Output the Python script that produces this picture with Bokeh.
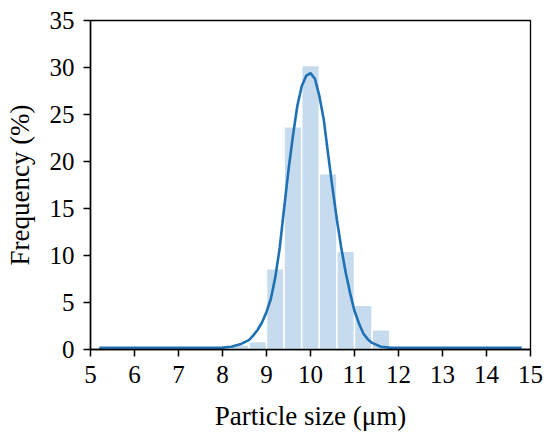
from bokeh.plotting import figure
from bokeh.models import FixedTicker, ColumnDataSource
from bokeh.embed import file_html
from bokeh.resources import INLINE

# Histogram bins (left/right edges, 0.4 um wide) and frequencies (%)
bin_left = [5.4, 5.8, 6.2, 6.6, 7.0, 7.4, 7.8, 8.2, 8.6, 9.0, 9.4, 9.8,
            10.2, 10.6, 11.0, 11.4, 11.8, 12.2, 12.6, 13.0, 13.4, 13.8, 14.2]
bin_right = [5.8, 6.2, 6.6, 7.0, 7.4, 7.8, 8.2, 8.6, 9.0, 9.4, 9.8, 10.2,
             10.6, 11.0, 11.4, 11.8, 12.2, 12.6, 13.0, 13.4, 13.8, 14.2, 14.6]
freq = [0.1, 0.1, 0.1, 0.1, 0.1, 0.1, 0.15, 0.5, 0.85, 8.6, 23.7, 30.2,
        18.7, 10.45, 4.7, 2.1, 0.35, 0.15, 0.15, 0.15, 0.15, 0.15, 0.15]

# Fitted curve
curve_x = [5.2, 7.5, 8.0, 8.2, 8.4, 8.6, 8.7, 8.8, 8.9, 9.0, 9.1, 9.2, 9.3, 9.4,
           9.5, 9.6, 9.7, 9.8, 9.9, 10.0, 10.1, 10.2, 10.3, 10.4, 10.5, 10.6,
           10.7, 10.8, 10.9, 11.0, 11.1, 11.2, 11.3, 11.4, 11.6, 11.8, 12.0, 12.5, 14.8]
curve_y = [0.18, 0.18, 0.2, 0.3, 0.55, 1.0, 1.5, 2.1, 2.9, 4.0, 5.4, 7.7, 10.8, 15.0,
           19.1, 22.7, 25.9, 28.0, 29.1, 29.4, 28.8, 27.0, 24.5, 20.8, 17.2, 13.8,
           10.8, 8.2, 6.0, 4.1, 2.8, 1.7, 1.1, 0.7, 0.3, 0.2, 0.18, 0.18, 0.18]

x_ticks = [5, 6, 7, 8, 9, 10, 11, 12, 13, 14, 15]
y_ticks = [0, 5, 10, 15, 20, 25, 30, 35]

FONT = "Liberation Serif"

p = figure(frame_width=440, frame_height=329, x_range=(5, 15), y_range=(0, 35),
           output_backend="svg", toolbar_location=None,
           min_border_left=90, min_border_top=20, min_border_right=20, min_border_bottom=97)
p.background_fill_color = "white"
p.border_fill_color = "white"
p.grid.visible = False
p.outline_line_color = "black"
p.outline_line_width = 1.3

src = ColumnDataSource(dict(left=bin_left, right=bin_right, top=freq))
p.quad(left="left", right="right", bottom=0, top="top", source=src,
       fill_color="#c6dcee", line_color="white", line_width=1.5)
p.line(curve_x, curve_y, line_color="#1f71b3", line_width=2.6)

for ax, ticks, label in ((p.xaxis[0], x_ticks, "Particle size (μm)"),
                         (p.yaxis[0], y_ticks, "Frequency (%)")):
    ax.ticker = FixedTicker(ticks=ticks)
    ax.axis_label = label
    ax.axis_label_text_font = FONT
    ax.axis_label_text_font_size = "27px"
    ax.axis_label_text_font_style = "normal"
    ax.axis_label_text_color = "black"
    ax.major_label_text_font = FONT
    ax.major_label_text_font_size = "25px"
    ax.major_label_text_color = "black"
    ax.axis_line_color = "black"
    ax.axis_line_width = 1.5
    ax.major_tick_line_color = "black"
    ax.major_tick_line_width = 1.5
    ax.major_tick_out = 7
    ax.major_tick_in = 0
    ax.minor_tick_line_color = None

p.xaxis.major_label_standoff = 9
p.xaxis.axis_label_standoff = 15
p.yaxis.major_label_standoff = 9
p.yaxis.axis_label_standoff = 12

open("out.html", "w").write(file_html(p, INLINE))
